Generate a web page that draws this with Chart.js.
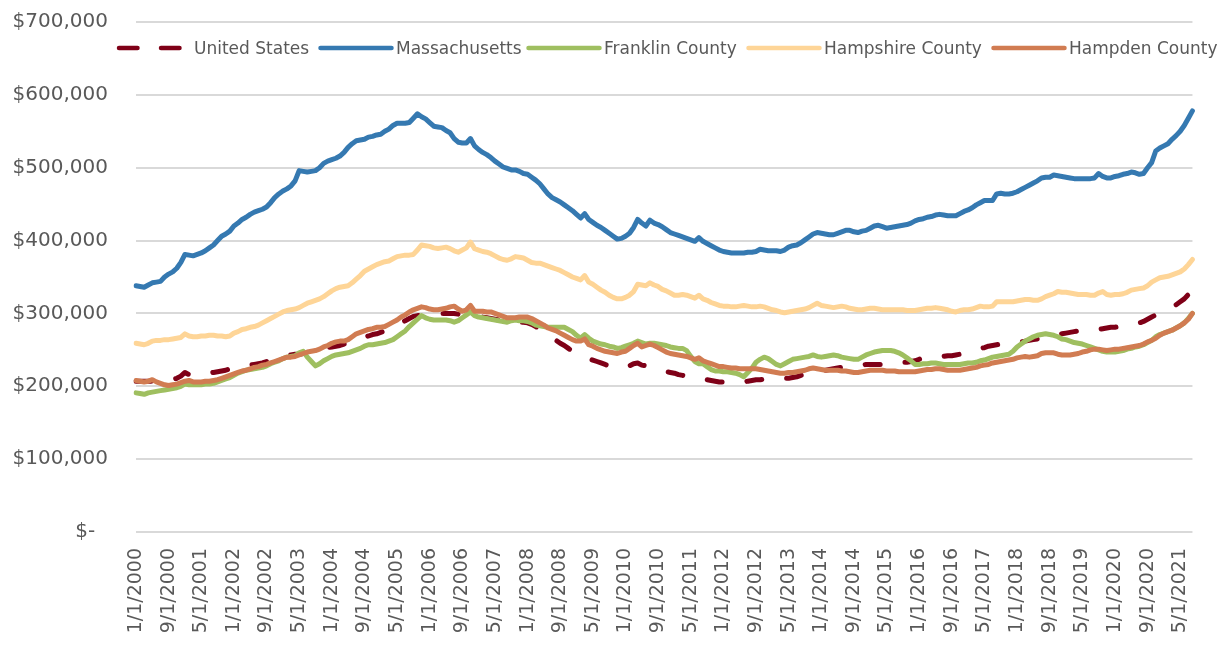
<!DOCTYPE html>
<html>
<head>
<meta charset="utf-8">
<script src="https://cdn.jsdelivr.net/npm/chart.js@4.4.1/dist/chart.umd.min.js"></script>
<style>
  html, body { margin: 0; padding: 0; background: #fff; }
  #wrap { position: relative; width: 1219px; height: 648px; overflow: hidden; }
  #legend { position: absolute; top: 37px; left: 0; width: 1219px; height: 22px;
            font: 17px "DejaVu Sans", sans-serif; color: #595959; }
  .item { position: absolute; top: 0; height: 22px; display: flex; align-items: center; white-space: nowrap; }
  .item svg { margin-right: 2px; }
</style>
</head>
<body>
<div id="wrap">
  <canvas id="chart"></canvas>
  <div id="legend"></div>
</div>
<script>
// monthly categories, 1/1/2000 .. 8/1/2021
const START_YEAR = 2000;
const MONTH_COUNT = 260;
const months = [];
for (let i = 0; i < MONTH_COUNT; i++) {
  months.push(((i % 12) + 1) + "/1/" + (START_YEAR + Math.floor(i / 12)));
}
const LABEL_EVERY = 8;

// values in $ thousands, one row per year
const usValues = [
  207, 207, 207, 207, 207, 207, 207, 207, 208, 209, 211, 214,
  219, 216, 215, 215, 216, 217, 218, 219, 220, 221, 222, 224,
  225, 226, 227, 228, 229, 230, 231, 232, 234, 236, 238, 240,
  241, 242, 243, 244, 244, 245, 245, 246, 248, 250, 251, 253,
  254, 255, 256, 258, 259, 261, 264, 266, 268, 269, 271, 272,
  274, 276, 278, 281, 284, 287, 290, 293, 296, 297, 298, 298,
  299, 299, 300, 300, 300, 300, 300, 299, 299, 298, 298, 297,
  296, 295, 294, 293, 292, 291, 290, 289, 289, 288, 288, 288,
  287, 285, 282, 278, 274, 270, 266, 263, 259, 256, 252, 248,
  245, 242, 240, 238, 236, 234, 232, 230, 228, 226, 225, 225,
  226, 228, 231, 232, 229, 228, 227, 225, 224, 222, 220, 219,
  218, 216, 215, 213, 212, 211, 210, 210, 209, 208, 207, 206,
  206, 205, 205, 205, 206, 206, 207, 208, 209, 209, 210, 210,
  210, 210, 210, 211, 211, 212, 213, 215, 216, 218, 219, 220,
  221, 222, 223, 224, 225, 226, 227, 228, 228, 229, 229, 230,
  230, 230, 230, 230, 230, 231, 231, 232, 233, 233, 234, 235,
  237, 239, 240, 240, 241, 241, 241, 242, 242, 243, 244, 246,
  247, 249, 250, 252, 253, 255, 256, 257, 258, 258, 259, 259,
  260, 261, 262, 263, 264, 265, 266, 267, 268, 269, 271, 272,
  273, 274, 275, 276, 276, 277, 277, 278, 278, 279, 280, 281,
  281, 282, 282, 283, 284, 285, 287, 289, 292, 295, 298, 301,
  303, 306, 309, 312, 316, 320, 326, 333
];

const maValues = [
  338, 337, 336, 339, 342, 343, 344, 350, 354, 357, 362, 370,
  381, 380, 379, 381, 383, 386, 390, 394, 400, 406, 409, 413,
  420, 424, 429, 432, 436, 439, 441, 443, 446, 452, 459, 464,
  468, 471, 475, 482, 496, 495, 494, 495, 496, 500, 506, 509,
  511, 513, 516, 521, 528, 533, 537, 538, 539, 542, 543, 545,
  546, 550, 553, 558, 561, 561, 561, 562, 568, 574, 570, 567,
  562, 557, 556, 555, 551, 548, 540, 535, 534, 534, 540, 530,
  525, 521, 518, 514, 509, 505, 501, 499, 497, 497, 495, 492,
  491, 487, 483, 478, 471, 464, 459, 456, 453, 449, 445, 441,
  436, 431, 437, 429, 425, 421, 418, 414, 410, 406, 402, 403,
  406, 410, 418, 429, 424, 420, 428, 424, 422, 419, 415, 411,
  409, 407, 405, 403, 401, 399, 404, 399, 396, 393, 390, 387,
  385, 384, 383, 383, 383, 383, 384, 384, 385, 388, 387, 386,
  386, 386, 385, 387, 391, 393, 394, 397, 401, 405, 409, 411,
  410, 409, 408, 408, 410, 412, 414, 414, 412, 411, 413, 414,
  417, 420, 421, 419, 417, 418, 419, 420, 421, 422, 424, 427,
  429, 430, 432, 433, 435, 436, 435, 434, 434, 434, 437, 440,
  442, 445, 449, 452, 455, 455, 455, 464, 465, 464, 464, 465,
  467, 470, 473, 476, 479, 482, 486, 487, 487, 490, 489, 488,
  487, 486, 485, 485, 485, 485, 485, 486, 492, 488, 486, 486,
  488, 489, 491, 492, 494, 493, 491, 492, 500, 507, 523, 527,
  530, 533, 539, 544, 550, 558, 568, 578
];

const franklinValues = [
  191, 190, 189, 191, 192, 193, 194, 195, 196, 197, 198, 200,
  203, 202, 202, 202, 202, 203, 203, 204, 206, 208, 210, 212,
  215, 218, 220, 222, 223, 224, 225, 226, 228, 231, 233, 235,
  238, 240, 241, 242, 246, 248, 240, 234, 228, 231, 235, 238,
  241, 243, 244, 245, 246, 248, 250, 252, 255, 257, 257, 258,
  259, 260, 262, 264, 268, 272, 276, 282, 287, 292, 297, 294,
  292, 291, 291, 291, 291, 290, 288, 290, 294, 298, 302, 297,
  295, 294, 293, 292, 291, 290, 289, 288, 290, 291, 290, 290,
  289, 287, 284, 283, 282, 281, 281, 281, 281, 281, 278, 275,
  270, 266, 271, 266, 262, 260, 258, 257, 255, 254, 252, 253,
  255, 257, 259, 262, 260, 258, 259, 259, 258, 257, 256, 254,
  253, 252, 252, 249, 241, 234, 231, 231, 227, 223, 221, 221,
  220, 220, 219, 218, 216, 213, 219, 225, 233, 237, 240, 238,
  234, 230, 228, 231, 234, 237, 238, 239, 240, 241, 243, 241,
  240, 241, 242, 243, 242, 240, 239, 238, 237, 237, 240, 243,
  245, 247, 248, 249, 249, 249, 248, 246, 243, 239, 235, 230,
  230, 231, 231, 232, 232, 231, 230, 230, 230, 230, 230, 231,
  232, 232, 233, 235, 236, 238, 240, 241, 242, 243, 244, 248,
  254, 258, 262, 265, 268, 270, 271, 272, 271, 270, 268, 265,
  264, 262, 260, 259, 258, 256, 254, 252, 250, 248, 247, 247,
  247, 248, 249, 251, 252, 254, 255, 257, 260, 263, 268, 271,
  273, 275, 277, 280, 283, 287, 293, 300
];

const hampshireValues = [
  259, 258, 257, 259, 262, 263, 263, 264, 264, 265, 266, 267,
  272, 269, 268, 268, 269, 269, 270, 270, 269, 269, 268, 269,
  273, 275, 278, 279, 281, 282, 284, 287, 290, 293, 296, 299,
  302, 304, 305, 306, 308, 311, 314, 316, 318, 320, 323, 327,
  331, 334, 336, 337, 338, 342, 347, 352, 358, 361, 364, 367,
  369, 371, 372, 375, 378, 379, 380, 380, 381, 387, 394, 393,
  392, 390, 389, 390, 391, 389, 386, 384, 387, 390, 398, 389,
  387, 385, 384, 382, 379, 376, 374, 373, 375, 378, 377, 376,
  373, 370, 369, 369, 367, 365, 363, 361, 359, 356, 353, 350,
  348, 346, 352, 343, 340, 336, 332, 329, 325, 322, 320, 320,
  322, 325, 330, 340, 339, 338, 342, 339, 337, 333, 331, 328,
  325, 325, 326, 325, 323, 321, 325, 320, 318, 315, 313, 311,
  310, 310, 309, 309, 310, 311, 310, 309, 309, 310, 309, 307,
  305, 304, 302, 301, 302, 303, 304, 305, 306, 308, 311, 314,
  311, 310, 309, 308, 309, 310, 309, 307, 306, 305, 305, 306,
  307, 307, 306, 305, 305, 305, 305, 305, 305, 304, 304, 304,
  305, 306, 307, 307, 308, 307, 306, 305, 303, 302, 304, 305,
  305, 306, 308, 310, 309, 309, 310, 316, 316, 316, 316, 316,
  317, 318, 319, 319, 318, 318, 320, 323, 325, 327, 330, 329,
  329, 328, 327, 326, 326, 326, 325, 325, 328, 330, 326, 325,
  326, 326, 327, 329, 332, 333, 334, 335, 338, 343, 346, 349,
  350, 351, 353, 355, 357, 361, 367, 374
];

const hampdenValues = [
  208, 207, 206, 207, 209, 206, 204, 202, 201, 202, 203, 205,
  207, 208, 206, 206, 206, 207, 207, 208, 209, 211, 213, 215,
  217, 219, 221, 222, 224, 226, 227, 229, 230, 232, 234, 236,
  238, 240, 240, 241, 243, 245, 247, 248, 249, 251, 254, 256,
  259, 261, 262, 262, 264, 268, 272, 274, 276, 278, 279, 281,
  281, 282, 285, 288, 291, 295, 298, 302, 305, 307, 309, 308,
  306, 305, 305, 306, 307, 309, 310, 306, 303, 305, 311, 303,
  303, 303, 302, 302, 300, 298, 296, 294, 294, 294, 295, 295,
  295, 293, 290, 287, 284, 280, 278, 276, 273, 270, 267, 264,
  262, 262, 265, 257, 255, 252, 250, 248, 247, 246, 245, 247,
  248, 252, 256, 259, 254, 256, 258, 256, 253, 250, 247, 245,
  244, 243, 242, 241, 239, 237, 239, 235, 233, 231, 229, 227,
  227, 226, 225, 225, 224, 224, 224, 224, 224, 223, 222, 221,
  220, 219, 218, 218, 219, 219, 220, 221, 222, 224, 225, 224,
  223, 222, 222, 222, 222, 221, 221, 220, 219, 219, 220, 221,
  222, 222, 222, 222, 221, 221, 221, 220, 220, 220, 220, 220,
  221, 222, 223, 223, 224, 224, 223, 222, 222, 222, 222, 223,
  224, 225, 226, 228, 229, 230, 232, 233, 234, 235, 236, 237,
  239, 240, 241, 240, 241, 242, 245, 246, 246, 246, 244, 243,
  243, 243, 244, 245, 247, 248, 250, 251, 251, 250, 249, 250,
  251, 251, 252, 253, 254, 255, 256, 258, 261, 263, 266, 270,
  273, 275, 277, 280, 283, 287, 292, 300
];

const yMax = 700000;
const yStep = 100000;

const series = [
  { name: "United States",    values: usValues,        color: "#7f0017", dash: true },
  { name: "Massachusetts",    values: maValues,        color: "#3579b1" },
  { name: "Franklin County",  values: franklinValues,  color: "#9fbf60" },
  { name: "Hampshire County", values: hampshireValues, color: "#fed597" },
  { name: "Hampden County",   values: hampdenValues,   color: "#d17c52" }
];

const TEXT = "#595959";
const FONT = "DejaVu Sans";

// later series are painted on top (as in the original)
const datasets = series.map((s, i) => ({
  label: s.name,
  data: s.values.map((v) => v * 1000),
  borderColor: s.color,
  backgroundColor: s.color,
  borderWidth: 5,
  borderDash: s.dash ? [15, 25] : [],
  borderCapStyle: "round",
  borderJoinStyle: "round",
  pointRadius: 0,
  tension: 0,
  order: series.length - i
}));

new Chart(document.getElementById("chart"), {
  type: "line",
  data: { labels: months, datasets },
  options: {
    responsive: true,
    maintainAspectRatio: false,
    animation: false,
    layout: { padding: { top: 22, right: 0, bottom: 0, left: 0 } },
    plugins: { legend: { display: false }, tooltip: { enabled: false } },
    scales: {
      x: {
        grid: { display: false, drawTicks: false },
        border: { display: false },
        ticks: {
          autoSkip: false,
          minRotation: 90,
          maxRotation: 90,
          padding: 16,
          color: TEXT,
          font: { family: FONT, size: 19 },
          callback: (v, i) => (i % LABEL_EVERY === 0 ? months[i] : null)
        },
        afterFit: (s) => { s.height = 116; }
      },
      y: {
        min: 0,
        max: yMax,
        grid: { color: "#d9d9d9", lineWidth: 2, drawTicks: false },
        border: { display: false },
        ticks: {
          stepSize: yStep,
          padding: 28,
          color: TEXT,
          font: { family: FONT, size: 20 },
          callback: (v) => (v === 0 ? "$-  " : "$" + v.toLocaleString("en-US"))
        },
        afterFit: (s) => {
          s.width = 136;
          // the tick padding is horizontal only here
          s.paddingTop = 12;
          s.paddingBottom = 12;
        }
      }
    }
  }
});

// legend drawn over the top of the plot area
const legendLeft = [116, 318, 526, 746, 991];
const legendEl = document.getElementById("legend");
series.forEach((s, i) => {
  const item = document.createElement("div");
  item.className = "item";
  item.style.left = legendLeft[i] + "px";
  const line = s.dash
    ? `<line x1="3" y1="5" x2="68" y2="5" stroke="${s.color}" stroke-width="4.5" stroke-linecap="round" stroke-dasharray="18.5 23.5"/>`
    : `<line x1="2.5" y1="5" x2="73.5" y2="5" stroke="${s.color}" stroke-width="4.5" stroke-linecap="round"/>`;
  item.innerHTML = `<svg width="76" height="10">${line}</svg><span>${s.name}</span>`;
  legendEl.appendChild(item);
});
</script>
</body>
</html>
